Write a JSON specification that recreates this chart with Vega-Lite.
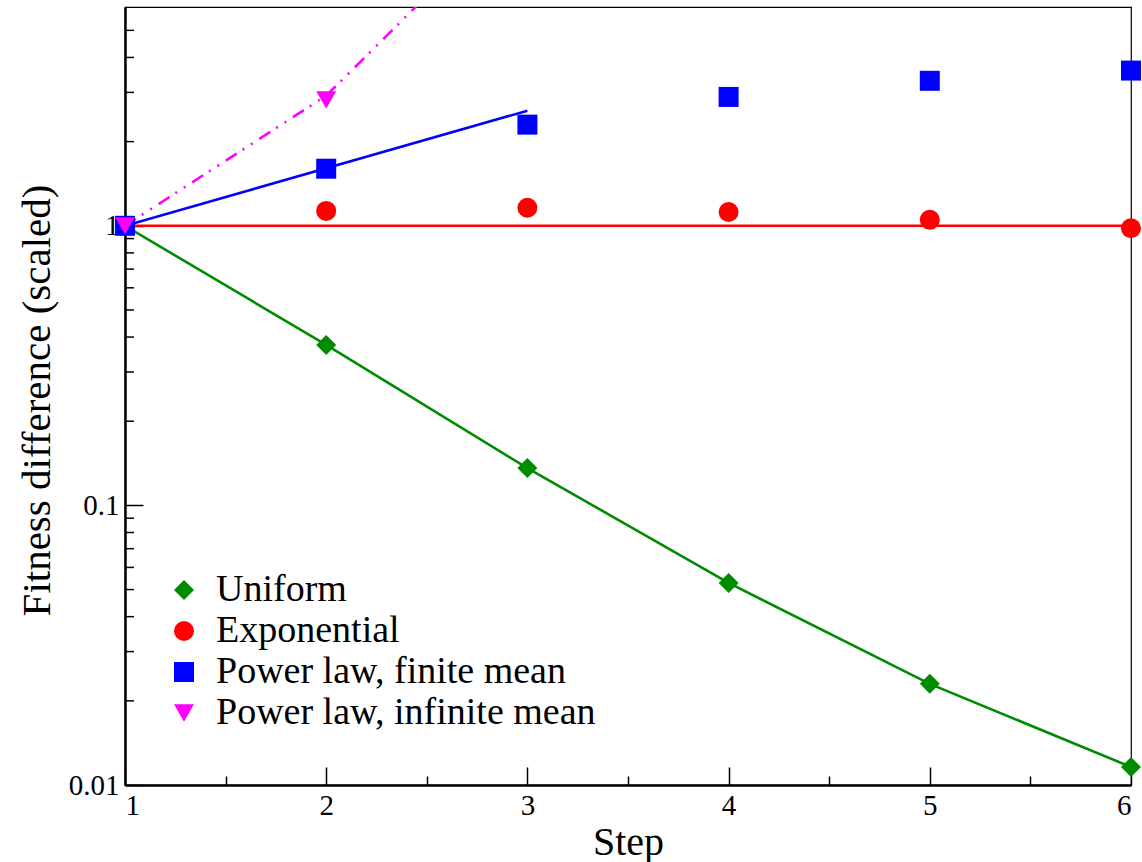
{
  "$schema": "https://vega.github.io/schema/vega-lite/v6.json",
  "width": 1006,
  "height": 778,
  "autosize": {"type": "none"},
  "padding": {"left": 125, "top": 7, "right": 11, "bottom": 77},
  "background": "white",
  "config": {
    "view": {"stroke": "black", "strokeWidth": 1.2},
    "font": "Liberation Serif",
    "axis": {"grid": false, "labelFont": "Liberation Serif", "titleFont": "Liberation Serif", "labelColor": "black", "titleColor": "black", "domainColor": "black", "tickColor": "black", "titleFontWeight": "normal"},
    "legend": {"labelFont": "Liberation Serif"}
  },
  "datasets": {
    "pts": [
      {"step": 1, "value": 1.0, "series": "Uniform"},
      {"step": 2, "value": 0.375, "series": "Uniform"},
      {"step": 3, "value": 0.136, "series": "Uniform"},
      {"step": 4, "value": 0.0528, "series": "Uniform"},
      {"step": 5, "value": 0.0230, "series": "Uniform"},
      {"step": 6, "value": 0.0116, "series": "Uniform"},
      {"step": 1, "value": 1.0, "series": "Exponential"},
      {"step": 2, "value": 1.13, "series": "Exponential"},
      {"step": 3, "value": 1.16, "series": "Exponential"},
      {"step": 4, "value": 1.12, "series": "Exponential"},
      {"step": 5, "value": 1.05, "series": "Exponential"},
      {"step": 6, "value": 0.98, "series": "Exponential"},
      {"step": 1, "value": 1.0, "series": "Power law, finite mean"},
      {"step": 2, "value": 1.60, "series": "Power law, finite mean"},
      {"step": 3, "value": 2.30, "series": "Power law, finite mean"},
      {"step": 4, "value": 2.89, "series": "Power law, finite mean"},
      {"step": 5, "value": 3.30, "series": "Power law, finite mean"},
      {"step": 6, "value": 3.59, "series": "Power law, finite mean"},
      {"step": 1, "value": 1.0, "series": "Power law, infinite mean"},
      {"step": 2, "value": 2.82, "series": "Power law, infinite mean"}
    ],
    "lines": [
      {"step": 1, "value": 1.0, "line": "green"},
      {"step": 2, "value": 0.375, "line": "green"},
      {"step": 3, "value": 0.136, "line": "green"},
      {"step": 4, "value": 0.0528, "line": "green"},
      {"step": 5, "value": 0.0230, "line": "green"},
      {"step": 6, "value": 0.0116, "line": "green"},
      {"step": 1, "value": 1.0, "line": "red"},
      {"step": 6, "value": 1.0, "line": "red"},
      {"step": 1, "value": 1.0, "line": "blue"},
      {"step": 3, "value": 2.58, "line": "blue"}
    ],
    "magenta": [
      {"step": 1, "value": 1.0},
      {"step": 2, "value": 2.92},
      {"step": 3, "value": 15.1}
    ],
    "minory": [
      {"v": 0.02}, {"v": 0.03}, {"v": 0.04}, {"v": 0.05}, {"v": 0.06}, {"v": 0.07}, {"v": 0.08}, {"v": 0.09},
      {"v": 0.2}, {"v": 0.3}, {"v": 0.4}, {"v": 0.5}, {"v": 0.6}, {"v": 0.7}, {"v": 0.8}, {"v": 0.9},
      {"v": 2}, {"v": 3}, {"v": 4}, {"v": 5}
    ]
  },
  "layer": [
    {
      "data": {"name": "lines"},
      "mark": {"type": "line", "strokeWidth": 2.6, "clip": true},
      "encoding": {
        "x": {"field": "step", "type": "quantitative", "scale": {"domain": [1, 6], "nice": false, "zero": false},
          "axis": {"orient": "bottom", "values": [1, 1.5, 2, 2.5, 3, 3.5, 4, 4.5, 5, 5.5, 6], "tickCount": 100,
            "tickSize": {"condition": {"test": "datum.value % 1 == 0", "value": -18}, "value": -9},
            "tickWidth": 1.5, "domainWidth": 2.5, "labelFontSize": 29, "labelFont": "Liberation Serif", "labelPadding": 24,
            "labelExpr": "datum.value % 1 == 0 ? format(datum.value, 'd') : ''",
            "title": "Step", "titleFont": "Liberation Serif", "titleFontSize": 40, "titlePadding": 2}},
        "y": {"field": "value", "type": "quantitative", "scale": {"type": "log", "domain": [0.01, 6.06], "nice": false},
          "axis": {"orient": "left", "values": [0.01, 0.1, 1],
            "tickSize": -18, "tickWidth": 1.5, "domainWidth": 2.5, "labelFontSize": 29, "labelFont": "Liberation Serif", "labelPadding": 24,
            "title": "Fitness difference (scaled)", "titleFont": "Liberation Serif", "titleFontSize": 41, "titleX": -88, "titleY": 393, "titleAngle": -90, "titleAlign": "center", "titleBaseline": "middle",
            "labelExpr": "datum.value == 1 ? '1' : (datum.value == 0.1 ? '0.1' : '0.01')"}},
        "color": {"field": "line", "type": "nominal", "scale": {"domain": ["green", "red", "blue"], "range": ["#008c00", "#ff0000", "#0000ff"]}, "legend": null},
        "detail": {"field": "line"}
      }
    },
    {
      "data": {"name": "minory"},
      "mark": {"type": "rule", "color": "black", "strokeWidth": 1.5},
      "encoding": {
        "x": {"datum": 1, "type": "quantitative"},
        "x2": {"datum": 1.0447},
        "y": {"field": "v", "type": "quantitative"}
      }
    },
    {
      "data": {"name": "magenta"},
      "mark": {"type": "line", "strokeWidth": 2.6, "color": "#ff00ff", "strokeDash": [13, 7, 2, 8, 2, 8], "clip": true},
      "encoding": {
        "x": {"field": "step", "type": "quantitative"},
        "y": {"field": "value", "type": "quantitative"}
      }
    },
    {
      "data": {"name": "pts"},
      "mark": {"type": "point", "filled": true, "opacity": 1, "size": 400, "strokeWidth": 0},
      "encoding": {
        "x": {"field": "step", "type": "quantitative"},
        "y": {"field": "value", "type": "quantitative"},
        "shape": {"field": "series", "type": "nominal", "scale": {"domain": ["Uniform", "Exponential", "Power law, finite mean", "Power law, infinite mean"], "range": ["diamond", "circle", "square", "triangle-down"]}, "legend": {"title": null, "orient": "none", "legendX": 40, "legendY": 564, "labelFontSize": 38, "labelFont": "Liberation Serif", "labelLimit": 0, "symbolSize": 400, "labelOffset": 13, "rowPadding": 3, "padding": 0, "symbolStrokeWidth": 0}},
        "fill": {"field": "series", "type": "nominal", "scale": {"domain": ["Uniform", "Exponential", "Power law, finite mean", "Power law, infinite mean"], "range": ["#008c00", "#ff0000", "#0000ff", "#ff00ff"]}, "legend": {"title": null, "orient": "none", "legendX": 40, "legendY": 564, "labelFontSize": 38, "labelFont": "Liberation Serif", "labelLimit": 0, "symbolSize": 400, "labelOffset": 13, "rowPadding": 3, "padding": 0, "symbolStrokeWidth": 0}},
        "color": {"value": "transparent"}
      }
    }
  ]
}
